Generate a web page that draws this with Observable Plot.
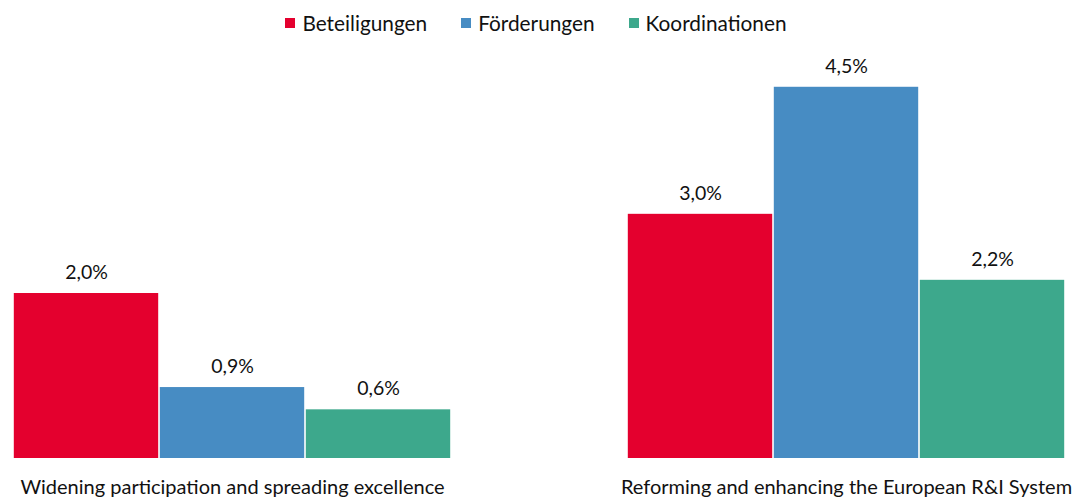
<!DOCTYPE html>
<html><head><meta charset="utf-8">
<script src="https://cdn.jsdelivr.net/npm/d3@7"></script>
<script src="https://cdn.jsdelivr.net/npm/@observablehq/plot@0.6"></script>
<style>
html,body{margin:0;padding:0;background:#fff;}
body{width:1072px;height:497px;overflow:hidden;font-family:Lato,"Open Sans",sans-serif;}
#legend{height:45px;display:flex;justify-content:center;align-items:center;gap:34px;font-size:20.8px;color:#111;}
#legend span.sw{display:inline-block;width:10px;height:10px;margin-right:7px;}
#legend div{display:flex;align-items:center;}
</style></head>
<body>
<div id="legend"></div>
<div id="chart"></div>
<script>
const groups = ["Widening participation and spreading excellence", "Reforming and enhancing the European R&I System"];
const series = ["Beteiligungen", "Förderungen", "Koordinationen"];
const colors = ["#E4002E", "#478CC3", "#3DA88C"];
const widening = [2.0, 0.86, 0.59];
const reforming = [2.96, 4.5, 2.16];

const data = [];
series.forEach((s, i) => {
  data.push({group: groups[0], series: s, value: widening[i]});
  data.push({group: groups[1], series: s, value: reforming[i]});
});
const fmt = v => v.toFixed(1).replace(".", ",") + "%";

const legend = document.getElementById("legend");
series.forEach((s, i) => {
  const d = document.createElement("div");
  d.innerHTML = `<span class="sw" style="background:${colors[i]}"></span>${s}`;
  legend.appendChild(d);
});

const chart = Plot.plot({
  width: 1072,
  height: 452,
  marginLeft: 12,
  marginRight: 6,
  marginTop: 20,
  marginBottom: 39,
  style: {fontFamily: "Lato, 'Open Sans', sans-serif", fontSize: "16px", color: "#111", overflow: "visible"},
  fx: {domain: groups, padding: 0.2834, label: null},
  x: {domain: series, padding: 0, axis: null},
  y: {domain: [0, 4.764], axis: null},
  color: {domain: series, range: colors},
  marks: [
    Plot.barY(data, {fx: "group", x: "series", y: "value", fill: "series", insetLeft: 0.8, insetRight: 0.8}),
    Plot.text(data, {fx: "group", x: "series", y: "value", text: d => fmt(d.value), dy: -21, fontSize: 19.5, fill: "#111"}),
    Plot.axisFx({anchor: "bottom", tickSize: 0, tickPadding: 21, fontSize: 20, label: null, fill: "#111"})
  ]
});
document.getElementById("chart").appendChild(chart);
</script>
</body></html>
